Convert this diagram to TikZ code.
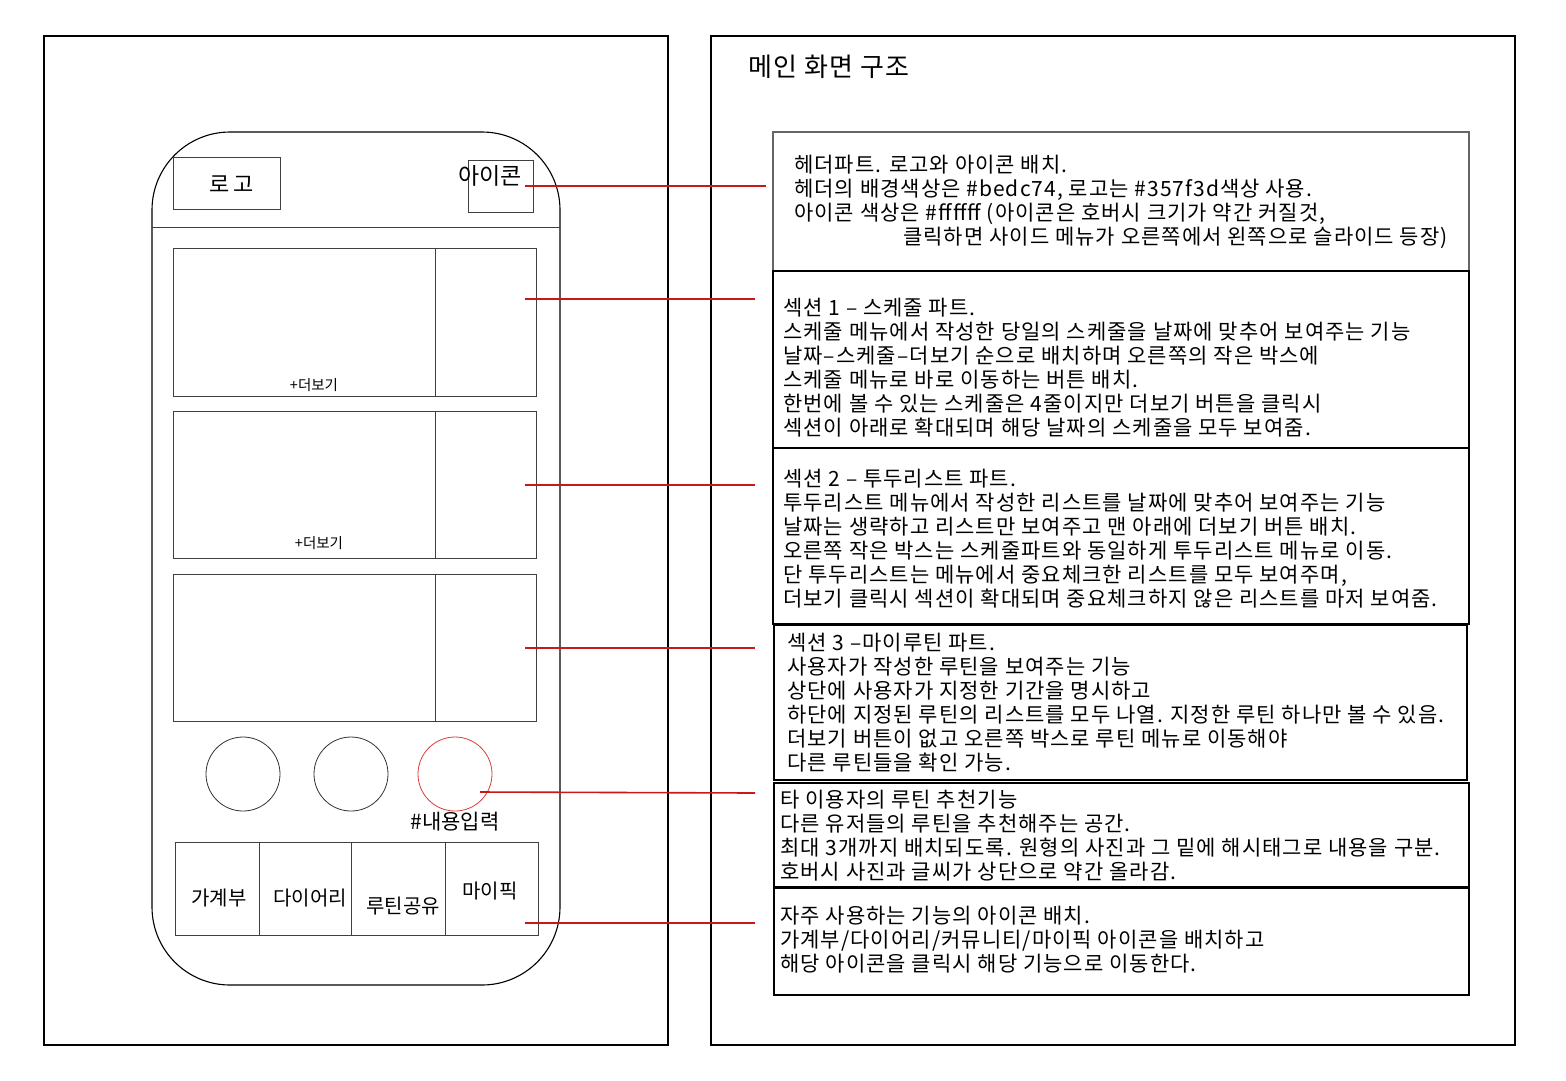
\documentclass[tikz,border=0pt]{standalone}
\usepackage{fontspec}
\setmainfont{Noto Sans CJK KR}
\newfontfamily\descfont[LetterSpace=5]{Noto Sans CJK KR}
\definecolor{lnred}{RGB}{200,25,25}
\definecolor{cred}{RGB}{220,60,60}
\begin{document}
\begin{tikzpicture}[x=1pt,y=-1pt,
  frame/.style={draw=black,line width=1.2pt},
  pbox/.style={draw=black!75,line width=1pt},
  dbox/.style={draw=black,line width=1.2pt},
  redln/.style={draw=lnred,line width=1.6pt},
  lbl/.style={inner sep=0pt,font=\fontsize{20}{24}\selectfont},
  desc/.style={inner sep=0pt,anchor=north west,align=left,font=\descfont\fontsize{21}{24}\selectfont}]
\useasboundingbox (0,0) rectangle (1566,1080);
\fill[white] (0,0) rectangle (1566,1080);
% outer frames
\draw[frame] (44,36) rectangle (668,1045);
\draw[frame] (711,36) rectangle (1515,1045);
\node[lbl,anchor=west,font=\descfont\fontsize{26}{30}\selectfont] (title) at (748,67) {메인 화면 구조};
% phone
\draw[frame,line width=1.1pt,rounded corners=78pt] (152,132) rectangle (560,985);
\draw[pbox] (152,227) -- (560,227);
\draw[pbox] (173,157) rectangle (280,209);
\node[lbl,font=\fontsize{22}{26}\selectfont] (logo) at (232,184) {로\,고};
\draw[pbox] (468,160) rectangle (533,212);
\node[lbl,font=\fontsize{23}{26}\selectfont] (icon) at (490,176) {아이콘};
% sections
\draw[pbox] (173,248) rectangle (536,396); \draw[pbox] (435,248) -- (435,396);
\node[lbl,font=\fontsize{14.5}{16}\selectfont] (more1) at (314,385) {+더보기};
\draw[pbox] (173,411) rectangle (536,558); \draw[pbox] (435,411) -- (435,558);
\node[lbl,font=\fontsize{14.5}{16}\selectfont] (more2) at (319,543) {+더보기};
\draw[pbox] (173,574) rectangle (536,721); \draw[pbox] (435,574) -- (435,721);
% circles
\draw[black!80,line width=0.8pt] (243,774) circle (37);
\draw[black!80,line width=0.8pt] (351,774) circle (37);
\draw[cred,line width=0.8pt] (455,774) circle (37);
\node[lbl,font=\fontsize{21}{24}\selectfont] (tag) at (455,822) {\#내용입력};
% bottom menu
\draw[pbox] (175,842) rectangle (538,935);
\draw[pbox] (259,842) -- (259,935);
\draw[pbox] (351,842) -- (351,935);
\draw[pbox] (445,842) -- (445,935);
\node[lbl] (m1) at (219,898) {가계부};
\node[lbl] (m2) at (310,898) {다이어리};
\node[lbl] (m3) at (403,906) {루틴공유};
\node[lbl] (m4) at (490,891) {마이픽};
% description boxes
\draw[draw=black!60,line width=1.2pt] (773,132) rectangle (1469,271);
\draw[dbox] (773,271) rectangle (1469,448);
\draw[dbox] (773,448) rectangle (1469,624);
\draw[dbox] (774,625) rectangle (1467,780);
\draw[dbox] (774,783) rectangle (1469,887);
\draw[dbox] (774,888) rectangle (1469,995);
\node[desc] (d1) at (794,155) {헤더파트. 로고와 아이콘 배치.\\헤더의 배경색상은 \#bedc74, 로고는 \#357f3d색상 사용.\\아이콘 색상은 \#ffffff (아이콘은 호버시 크기가 약간 커질것,\\\hspace*{109pt}클릭하면 사이드 메뉴가 오른쪽에서 왼쪽으로 슬라이드 등장)};
\node[desc] (d2) at (783,298) {섹션 1 – 스케줄 파트.\\스케줄 메뉴에서 작성한 당일의 스케줄을 날짜에 맞추어 보여주는 기능\\날짜–스케줄–더보기 순으로 배치하며 오른쪽의 작은 박스에\\스케줄 메뉴로 바로 이동하는 버튼 배치.\\한번에 볼 수 있는 스케줄은 4줄이지만 더보기 버튼을 클릭시\\섹션이 아래로 확대되며 해당 날짜의 스케줄을 모두 보여줌.};
\node[desc] (d3) at (783,469) {섹션 2 – 투두리스트 파트.\\투두리스트 메뉴에서 작성한 리스트를 날짜에 맞추어 보여주는 기능\\날짜는 생략하고 리스트만 보여주고 맨 아래에 더보기 버튼 배치.\\오른쪽 작은 박스는 스케줄파트와 동일하게 투두리스트 메뉴로 이동.\\단 투두리스트는 메뉴에서 중요체크한 리스트를 모두 보여주며,\\더보기 클릭시 섹션이 확대되며 중요체크하지 않은 리스트를 마저 보여줌.};
\node[desc] (d4) at (787,633) {섹션 3 –마이루틴 파트.\\사용자가 작성한 루틴을 보여주는 기능\\상단에 사용자가 지정한 기간을 명시하고\\하단에 지정된 루틴의 리스트를 모두 나열. 지정한 루틴 하나만 볼 수 있음.\\더보기 버튼이 없고 오른쪽 박스로 루틴 메뉴로 이동해야\\다른 루틴들을 확인 가능.};
\node[desc] (d5) at (780,790) {타 이용자의 루틴 추천기능\\다른 유저들의 루틴을 추천해주는 공간.\\최대 3개까지 배치되도록. 원형의 사진과 그 밑에 해시태그로 내용을 구분.\\호버시 사진과 글씨가 상단으로 약간 올라감.};
\node[desc] (d6) at (780,906) {자주 사용하는 기능의 아이콘 배치.\\가계부/다이어리/커뮤니티/마이픽 아이콘을 배치하고\\해당 아이콘을 클릭시 해당 기능으로 이동한다.};
% connectors
\coordinate (a1) at (525,186); \coordinate (b1) at (766,186);
\coordinate (a2) at (525,299); \coordinate (b2) at (755,299);
\coordinate (a3) at (525,485); \coordinate (b3) at (755,485);
\coordinate (a4) at (525,648); \coordinate (b4) at (755,648);
\coordinate (a5) at (480,792); \coordinate (b5) at (755,793);
\coordinate (a6) at (525,923); \coordinate (b6) at (755,923);
\foreach \i in {1,...,6} \draw[redln] (a\i) -- (b\i);
\end{tikzpicture}
\end{document}
